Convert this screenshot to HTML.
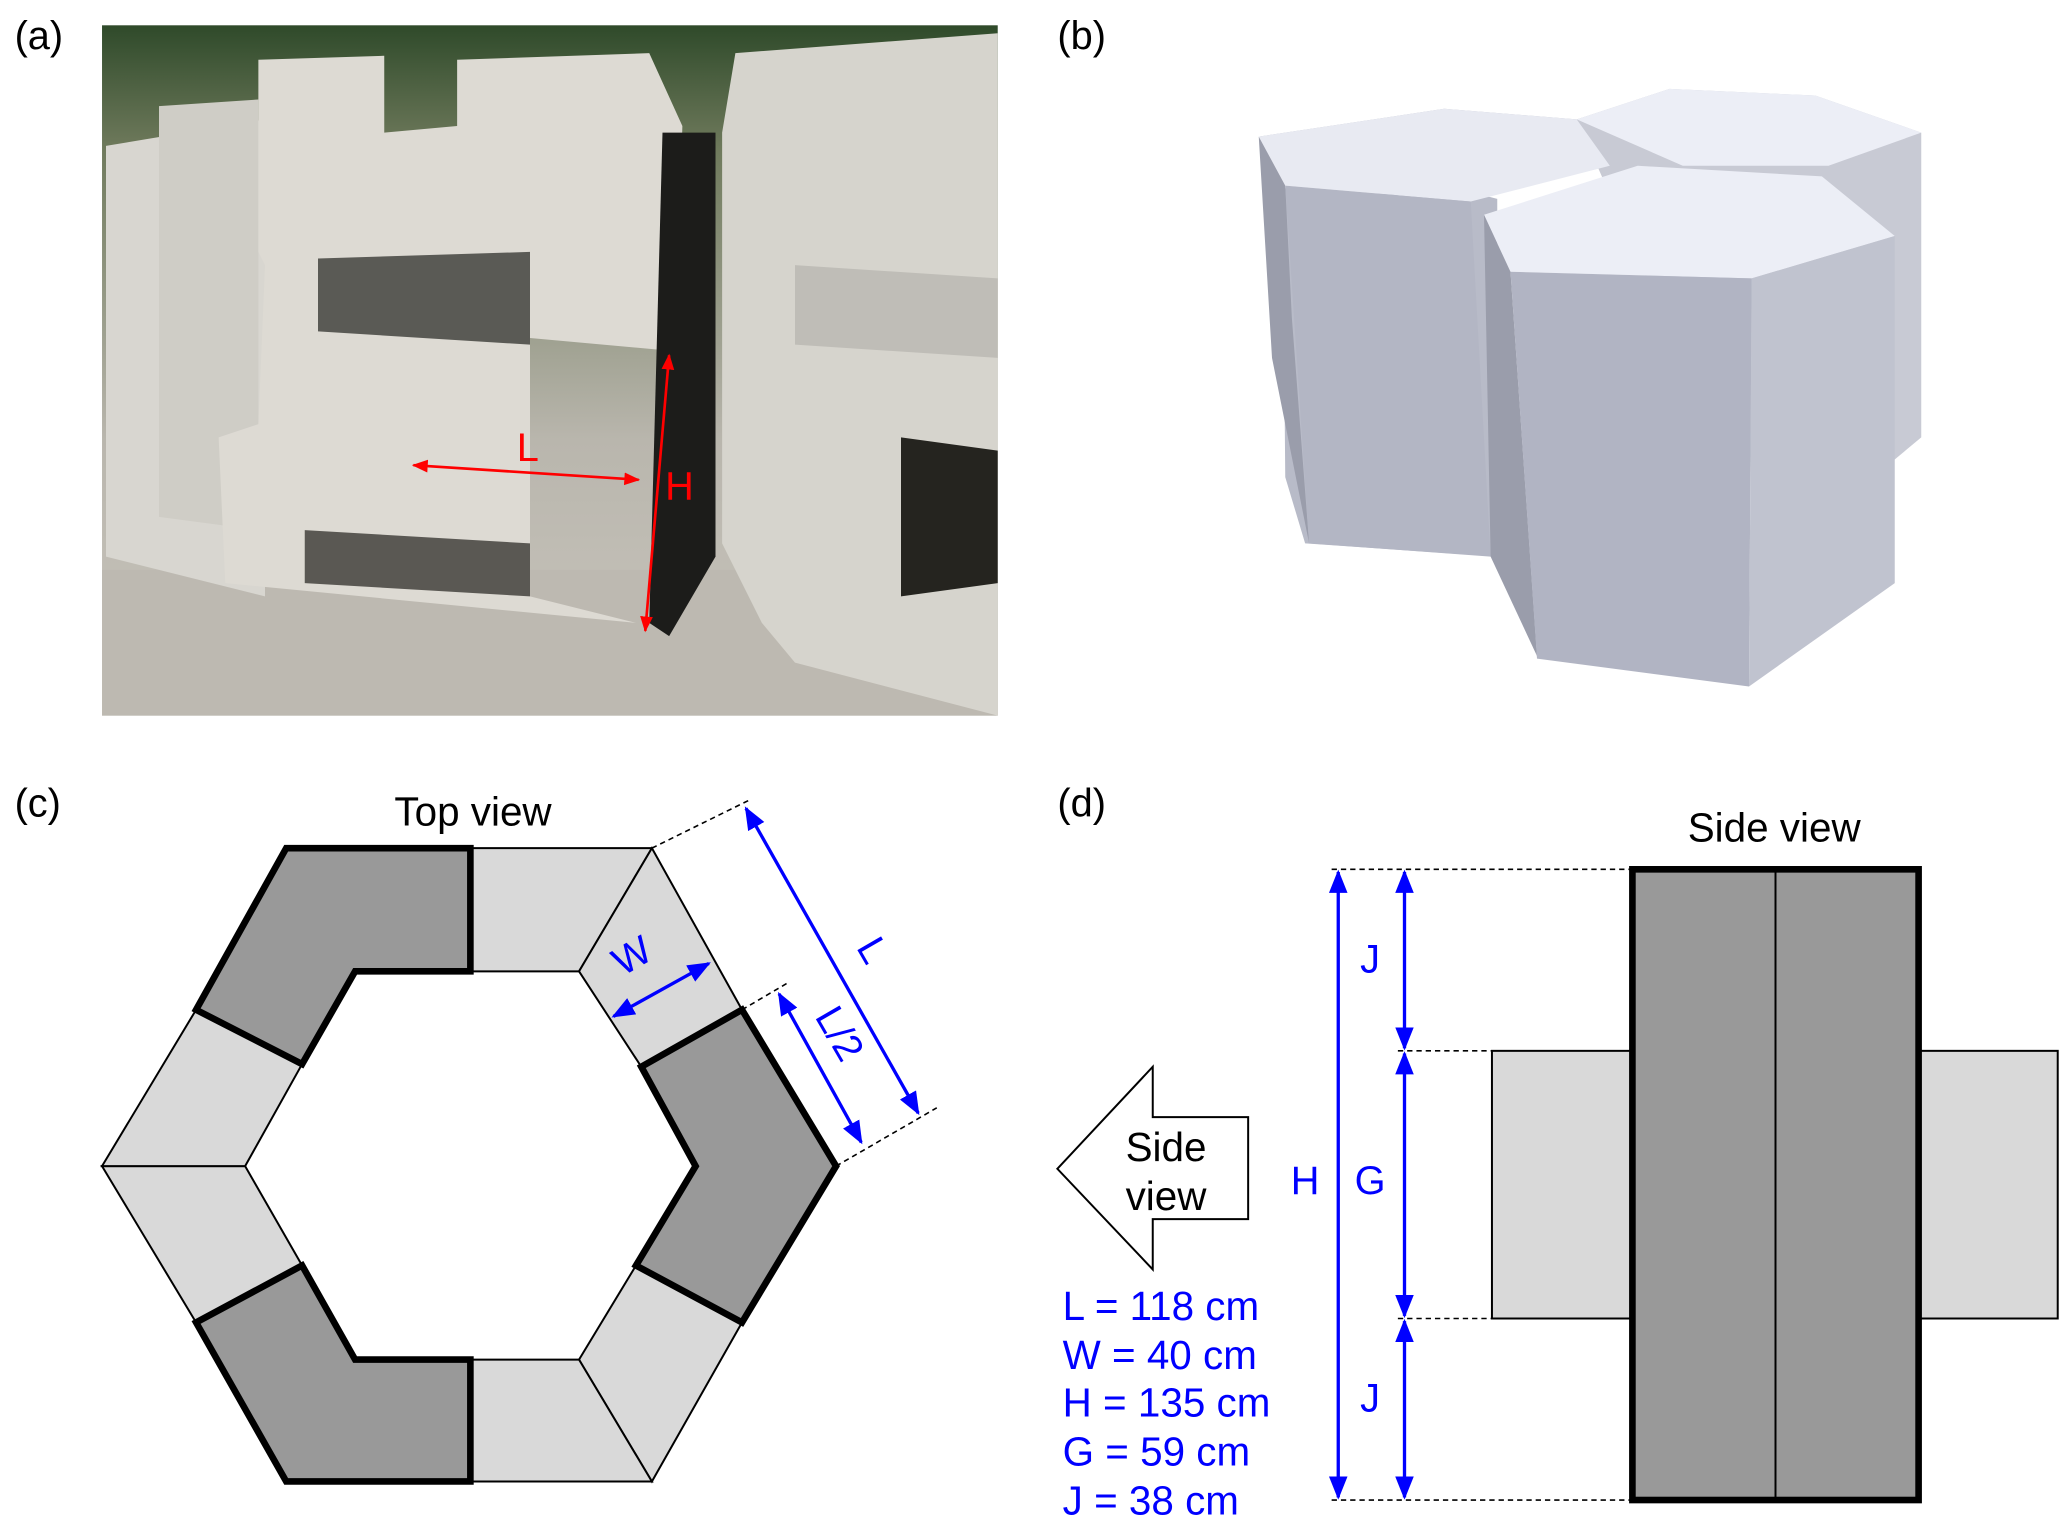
<!DOCTYPE html>
<html><head><meta charset="utf-8"><style>html,body{margin:0;padding:0;background:#fff}svg{display:block}</style></head>
<body>
<svg width="2067" height="1524" viewBox="0 0 1560 1150" xmlns="http://www.w3.org/2000/svg" font-family="Liberation Sans, Arial, sans-serif">
<defs>
<linearGradient id="sky" x1="0" y1="0" x2="0" y2="1"><stop offset="0" stop-color="#2f4a2a"/><stop offset="0.18" stop-color="#6f7a5c"/><stop offset="0.6" stop-color="#b9b6ad"/><stop offset="1" stop-color="#c9c5bd"/></linearGradient>
<marker id="ab" viewBox="0 0 10 10" refX="9" refY="5" markerWidth="7" markerHeight="7" orient="auto-start-reverse"><path d="M0,1 L10,5 L0,9 z" fill="#0000ff"/></marker>
<marker id="ar" viewBox="0 0 10 10" refX="9" refY="5" markerWidth="6" markerHeight="6" orient="auto-start-reverse"><path d="M0,1 L10,5 L0,9 z" fill="#ff0000"/></marker>
</defs>
<g font-size="30" fill="#000">
<text x="11" y="37">(a)</text><text x="798" y="37">(b)</text>
<text x="11" y="616">(c)</text><text x="798" y="616">(d)</text>
</g>
<rect x="77" y="19" width="676" height="521" fill="url(#sky)"/>
<rect x="77" y="430" width="676" height="110" fill="#bdb9b1"/>
<polygon points="80,110 200,90 200,450 80,420" fill="#d8d6d0"/>
<polygon points="120,80 195,75 195,400 120,390" fill="#cfcdc6"/>
<polygon points="195,45 290,42 290,100 345,95 345,45 490,40 515,95 510,265 400,255 400,450 480,470 170,440 165,330 195,320 200,200 195,190" fill="#dddad3"/>
<polygon points="240,195 400,190 400,260 240,250" fill="#5a5a55"/>
<polygon points="230,400 400,410 400,450 230,440" fill="#5a5853"/>
<polygon points="500,100 540,100 540,420 505,480 490,470" fill="#1c1c1a"/>
<polygon points="555,40 753,25 753,540 600,500 575,470 545,410 545,100" fill="#d6d4cd"/>
<polygon points="600,200 753,210 753,270 600,260" fill="#bfbdb7"/>
<polygon points="680,330 753,340 753,440 680,450" fill="#25241f"/>
<line x1="312" y1="351" x2="482" y2="362" stroke="#f00" stroke-width="2" marker-start="url(#ar)" marker-end="url(#ar)"/>
<line x1="505" y1="268" x2="487" y2="476" stroke="#f00" stroke-width="2" marker-start="url(#ar)" marker-end="url(#ar)"/>
<text x="390" y="348" font-size="30" fill="#f00">L</text>
<text x="502" y="377" font-size="30" fill="#f00">H</text>
<g stroke="none">
<polygon points="1190,90 1260,67 1370,72 1450,100 1450,330 1420,355 1300,340" fill="#c8cad4"/>
<polygon points="1190,90 1260,67 1370,72 1450,100 1380,125 1270,125" fill="#eceef6"/>
<polygon points="950,103 1090,82 1190,90 1215,125 1110,150 968,142 970,360 985,410 1130,420 1130,150" fill="#b8bbc8"/>
<polygon points="950,103 1090,82 1190,90 1215,125 1110,152 970,140" fill="#e8eaf2"/>
<polygon points="950,103 970,140 975,240 988,410 960,270" fill="#9a9dab"/>
<polygon points="970,140 1110,152 1125,420 988,410" fill="#b3b6c4"/>
<polygon points="1120,162 1236,125 1375,133 1430,178 1322,210 1140,205" fill="#eceef6"/>
<polygon points="1120,162 1140,205 1160,495 1125,420" fill="#9a9dab"/>
<polygon points="1140,205 1322,210 1320,518 1160,497" fill="#b1b4c3"/>
<polygon points="1322,210 1430,178 1430,440 1320,518" fill="#c0c3cf"/>
</g>
<text x="357" y="623" font-size="30.5" text-anchor="middle">Top view</text>
<g stroke="#000" stroke-width="1.5" stroke-linejoin="miter">
<polygon points="355,640 492,640 437,733 355,733" fill="#d9d9d9"/>
<polygon points="492,640 560,762 484,805 437,733" fill="#d9d9d9"/>
<polygon points="560,998 492,1118 437,1026 480,955" fill="#d9d9d9"/>
<polygon points="437,1026 492,1118 355,1118 355,1026" fill="#d9d9d9"/>
<polygon points="148,998 77,880 185,880 228,955" fill="#d9d9d9"/>
<polygon points="77,880 148,762 228,803 185,880" fill="#d9d9d9"/>
</g>
<g stroke="#000" stroke-width="5" stroke-linejoin="miter" fill="#999">
<polygon points="355,640 216,640 148,762 228,803 268,733 355,733"/>
<polygon points="560,762 631,880 560,998 480,955 525,880 484,805"/>
<polygon points="355,1118 216,1118 148,998 228,955 268,1026 355,1026"/>
</g>
<g stroke="#000" stroke-width="1.2" stroke-dasharray="4,3">
<line x1="492" y1="640" x2="565" y2="604"/>
<line x1="560" y1="762" x2="594" y2="742"/>
<line x1="631" y1="880" x2="707" y2="836"/>
</g>
<g stroke="#0000ff" stroke-width="2.5">
<line x1="563" y1="610" x2="693" y2="840" marker-start="url(#ab)" marker-end="url(#ab)"/>
<line x1="588" y1="750" x2="650" y2="862" marker-start="url(#ab)" marker-end="url(#ab)"/>
<line x1="463" y1="767" x2="535" y2="727" marker-start="url(#ab)" marker-end="url(#ab)"/>
</g>
<g fill="#0000ff" font-size="30">
<text x="650" y="722" transform="rotate(60 650 722)" text-anchor="middle">L</text>
<text x="625" y="785" transform="rotate(60 625 785)" text-anchor="middle">L/2</text>
<text x="482" y="730" transform="rotate(-30 482 730)" text-anchor="middle">W</text>
</g>
<text x="1339" y="635" font-size="30.5" text-anchor="middle">Side view</text>
<rect x="1126" y="793" width="106" height="202" fill="#d9d9d9" stroke="#000" stroke-width="1.5"/>
<rect x="1448" y="793" width="105" height="202" fill="#d9d9d9" stroke="#000" stroke-width="1.5"/>
<rect x="1232" y="656" width="216" height="476" fill="#999" stroke="#000" stroke-width="5"/>
<line x1="1340" y1="656" x2="1340" y2="1132" stroke="#000" stroke-width="1.5"/>
<g stroke="#000" stroke-width="1.2" stroke-dasharray="4,3">
<line x1="1005" y1="656" x2="1232" y2="656"/>
<line x1="1055" y1="793" x2="1126" y2="793"/>
<line x1="1055" y1="995" x2="1126" y2="995"/>
<line x1="1005" y1="1132" x2="1232" y2="1132"/>
</g>
<g stroke="#0000ff" stroke-width="2.5">
<line x1="1010" y1="658" x2="1010" y2="1130" marker-start="url(#ab)" marker-end="url(#ab)"/>
<line x1="1060" y1="658" x2="1060" y2="791" marker-start="url(#ab)" marker-end="url(#ab)"/>
<line x1="1060" y1="795" x2="1060" y2="993" marker-start="url(#ab)" marker-end="url(#ab)"/>
<line x1="1060" y1="997" x2="1060" y2="1130" marker-start="url(#ab)" marker-end="url(#ab)"/>
</g>
<rect x="966" y="866" width="32" height="44" fill="#fff"/>
<rect x="1016" y="866" width="34" height="44" fill="#fff"/>
<rect x="1021" y="703" width="28" height="42" fill="#fff"/>
<rect x="1021" y="1034" width="28" height="42" fill="#fff"/>
<g fill="#0000ff" font-size="30" text-anchor="middle">
<text x="985" y="901">H</text><text x="1034" y="901">G</text>
<text x="1034" y="734">J</text><text x="1034" y="1065">J</text>
</g>
<polygon points="798,882 870,805 870,843 942,843 942,920 870,920 870,958" fill="#fff" stroke="#000" stroke-width="1.5"/>
<text x="880" y="876" font-size="30.5" text-anchor="middle">Side</text>
<text x="880" y="913" font-size="30.5" text-anchor="middle">view</text>
<g fill="#0000ff" font-size="30.5">
<text x="802" y="996">L = 118 cm</text>
<text x="802" y="1033">W = 40 cm</text>
<text x="802" y="1069">H = 135 cm</text>
<text x="802" y="1106">G = 59 cm</text>
<text x="802" y="1143">J = 38 cm</text>
</g>
</svg>
</body></html>
